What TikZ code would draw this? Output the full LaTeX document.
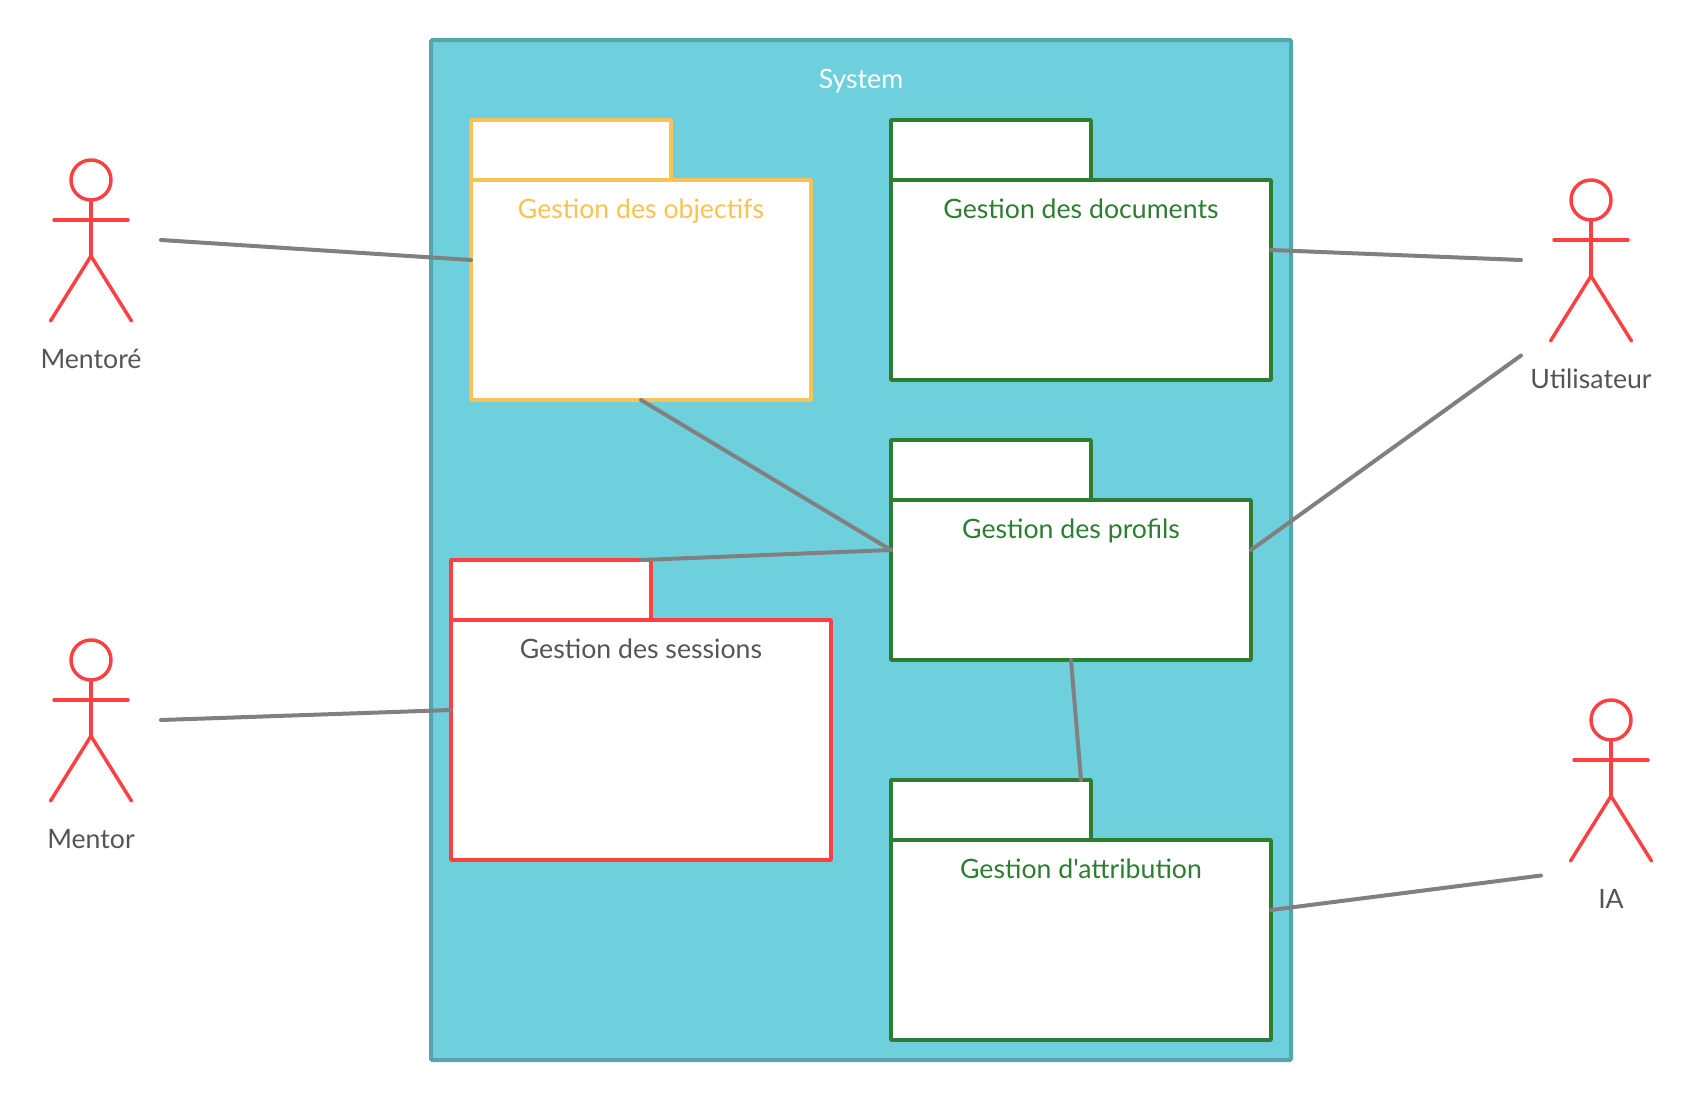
\documentclass[tikz,border=0pt]{standalone}
\usepackage{fontspec}
\newfontfamily\latoplain{Lato}
\usetikzlibrary{calc}
\definecolor{sysfill}{HTML}{6FD0DD}
\definecolor{sysline}{HTML}{55A5AD}
\definecolor{pkgyellow}{HTML}{F7C352}
\definecolor{pkggreen}{HTML}{2E7D32}
\definecolor{pkgred}{HTML}{FF4040}
\definecolor{txtgray}{HTML}{555555}
\definecolor{linkgray}{HTML}{808080}
\def\px{0.75pt}
\tikzset{
  x=0.75pt,y=-0.75pt,
  sysbox/.style={draw=sysline,fill=sysfill,line width=3pt,rounded corners=1pt,inner sep=0pt,outer sep=0pt,anchor=north west},
  hull/.style={inner sep=0pt,outer sep=0pt,anchor=north west},
  pkgpart/.style={draw=#1,fill=white,line width=2.6pt,line join=round,inner sep=0pt,outer sep=0pt,anchor=north west},
  pkgtext/.style={font=\latoplain\fontsize{20}{24}\selectfont,anchor=base,inner sep=0pt},
  actortext/.style={font=\latoplain\fontsize{20}{24}\selectfont,text=txtgray,anchor=base,inner sep=0pt},
  stick/.style={draw=pkgred,line width=2.6pt,line cap=round,line join=round},
  link/.style={draw=linkgray,line width=3pt,line cap=round},
}
% name, x1, y1, x2, y2, tab right, body top, colour
\newcommand{\pkg}[8]{%
  \node[hull,minimum width={(#4-#2)*\px},minimum height={(#5-#3)*\px}] (#1) at (#2,#3) {};
  \node[pkgpart=#8,minimum width={(#6-#2)*\px},minimum height={(#7-#3)*\px}] (#1-tab) at (#2,#3) {};
  \node[pkgpart=#8,minimum width={(#4-#2)*\px},minimum height={(#5-#7)*\px}] (#1-body) at (#2,#7) {};
}
% name, centre x, head top y, label
\newcommand{\actor}[4]{%
  \node[hull,minimum width={140*\px},minimum height={160*\px}] (#1) at ({#2-70},#3) {};
  \coordinate (#1-port) at ({#2-70},{#3+175.5});
  \node[stick,circle,fill=none,minimum size={40*\px},inner sep=0pt,outer sep=0pt] (#1-head) at (#2,{#3+20}) {};
  \coordinate (#1-hip) at (#2,{#3+96});
  \draw[stick] (#1-head.south) -- (#1-hip);
  \draw[stick] ({#2-37},{#3+60}) -- ({#2+37},{#3+60});
  \draw[stick] ({#2-40.5},{#3+161}) -- (#1-hip) -- ({#2+40.5},{#3+161});
  \node[actortext] (#1-label) at (#2,{#3+208}) {#4};
}
\begin{document}
\begin{tikzpicture}
\useasboundingbox (0,0) rectangle (1692,1100);
\node[sysbox,minimum width={860*\px},minimum height={1020*\px}] (system) at (431,40) {};
\node[pkgtext,text=white] (systemlabel) at (861,88) {System};

\pkg{obj}{471}{120}{811}{400}{671}{180}{pkgyellow}
\node[pkgtext,text=pkgyellow] (objlabel) at (641,218) {Gestion des objectifs};
\pkg{doc}{891}{120}{1271}{380}{1091}{180}{pkggreen}
\node[pkgtext,text=pkggreen] (doclabel) at (1081,218) {Gestion des documents};
\pkg{prof}{891}{440}{1251}{660}{1091}{500}{pkggreen}
\node[pkgtext,text=pkggreen] (proflabel) at (1071,538) {Gestion des profils};
\pkg{sess}{451}{560}{831}{860}{651}{620}{pkgred}
\node[pkgtext,text=txtgray] (sesslabel) at (641,658) {Gestion des sessions};
\pkg{attr}{891}{780}{1271}{1040}{1091}{840}{pkggreen}
\node[pkgtext,text=pkggreen] (attrlabel) at (1081,878) {Gestion d'attribution};

\actor{mentore}{91}{160}{Mentoré}
\actor{mentor}{91}{640}{Mentor}
\actor{user}{1591}{180}{Utilisateur}
\actor{ia}{1611}{700}{IA}

\draw[link] (mentore.east) -- (obj.west);
\draw[link] (mentor.east) -- (sess.west);
\draw[link] (doc.east) -- (user.west);
\draw[link] (prof.east) -- (user-port);
\draw[link] (attr.east) -- (ia-port);
\draw[link] (obj.south) -- (prof.west);
\draw[link] (sess.north) -- (prof.west);
\draw[link] (prof.south) -- (attr.north);
\end{tikzpicture}
\end{document}
